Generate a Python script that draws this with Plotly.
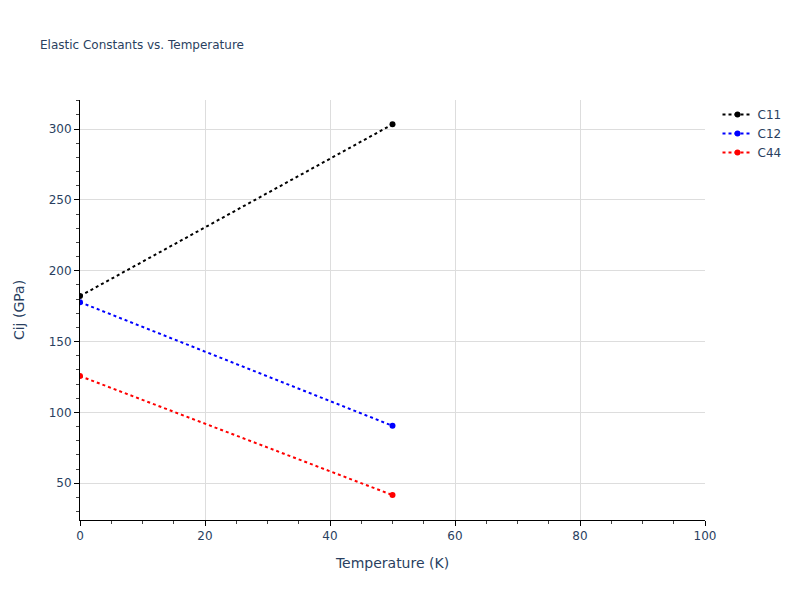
import plotly.graph_objects as go

temperature = [0, 50]
c11 = [182.1, 303.3]
c12 = [177.8, 90.5]
c44 = [125.6, 41.6]

series = [("C11", c11, "black"), ("C12", c12, "blue"), ("C44", c44, "red")]

fig = go.Figure()
for name, vals, col in series:
    fig.add_trace(go.Scatter(x=temperature, y=vals, name=name, mode="lines+markers",
                             line=dict(color=col, dash="dot", width=2),
                             marker=dict(color=col, size=6)))

axis_common = dict(showline=True, linecolor="black", linewidth=1, ticks="outside",
                   tickcolor="black", gridcolor="#dddddd", zeroline=False)
fig.update_layout(
    template="plotly_white",
    width=800, height=600,
    font=dict(family="DejaVu Sans"),
    margin=dict(l=72, t=92, r=103, b=88, autoexpand=False),
    title=dict(text="Elastic Constants vs. Temperature", font=dict(size=12), x=0.04,
               y=0.938, yanchor="middle"),
    xaxis=dict(title="Temperature (K)", range=[0, 100], dtick=20,
               minor=dict(ticks="outside", dtick=5, tickcolor="#444", showgrid=False),
               **axis_common),
    yaxis=dict(title=dict(text="Cij (GPa)", standoff=20), range=[24, 320.5], dtick=50,
               minor=dict(ticks="outside", dtick=10, tickcolor="#444", showgrid=False),
               **axis_common),
)
fig.write_html("out.html")
